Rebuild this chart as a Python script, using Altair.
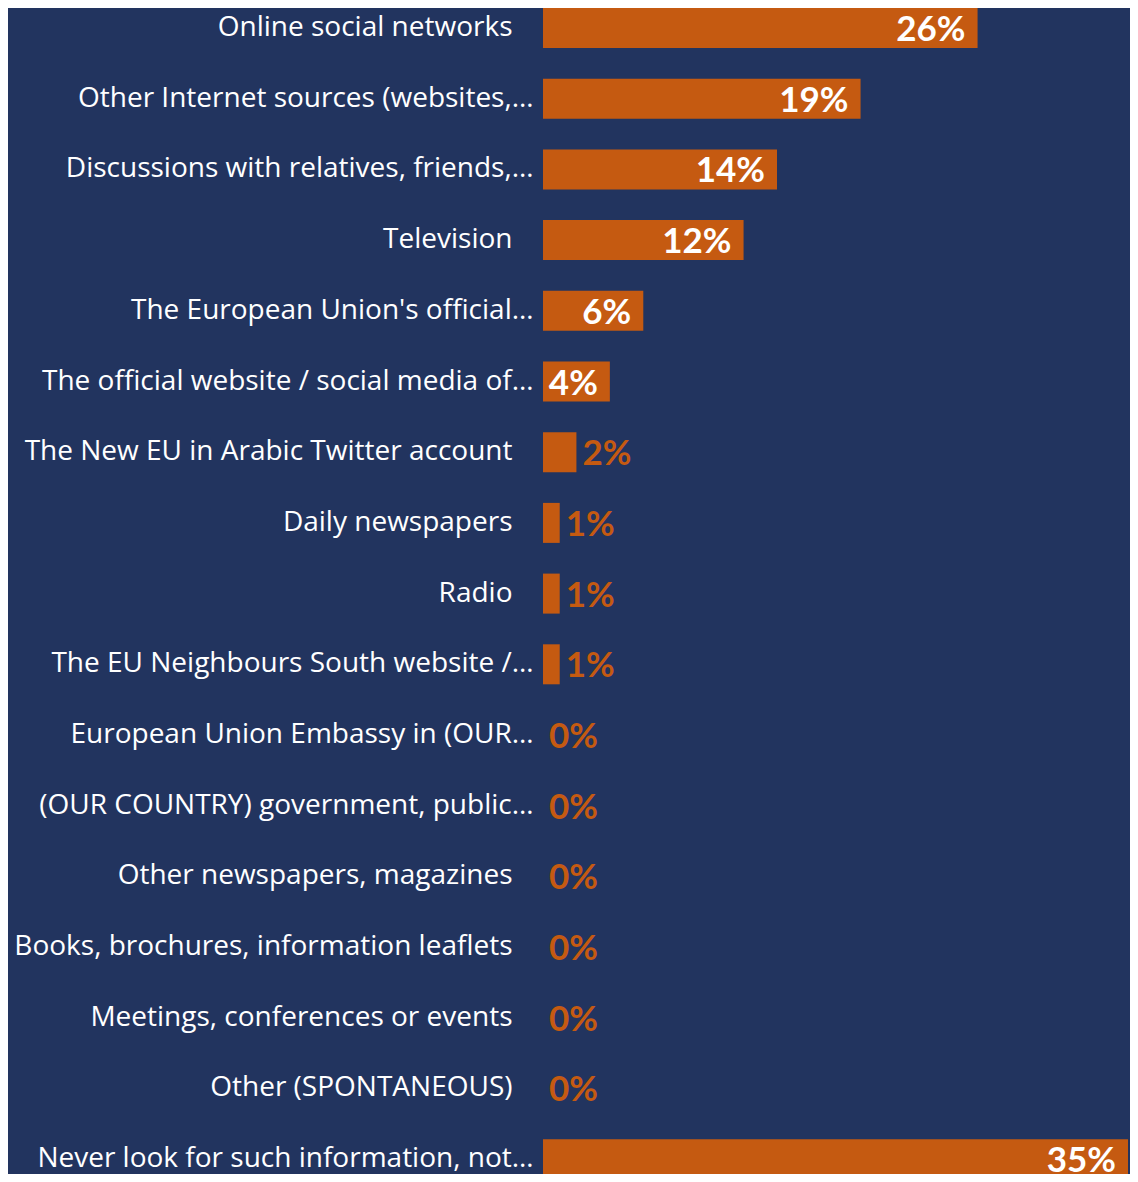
import altair as alt
import pandas as pd

categories = [
    "Online social networks",
    "Other Internet sources (websites,\u2026",
    "Discussions with relatives, friends,\u2026",
    "Television",
    "The European Union's official\u2026",
    "The official website / social media of\u2026",
    "The New EU in Arabic Twitter account",
    "Daily newspapers",
    "Radio",
    "The EU Neighbours South website /\u2026",
    "European Union Embassy in (OUR\u2026",
    "(OUR COUNTRY) government, public\u2026",
    "Other newspapers, magazines",
    "Books, brochures, information leaflets",
    "Meetings, conferences or events",
    "Other (SPONTANEOUS)",
    "Never look for such information, not\u2026",
]
values = [26, 19, 14, 12, 6, 4, 2, 1, 1, 1, 0, 0, 0, 0, 0, 0, 35]
value_labels = ["26%", "19%", "14%", "12%", "6%", "4%", "2%", "1%", "1%", "1%",
                "0%", "0%", "0%", "0%", "0%", "0%", "35%"]

df = pd.DataFrame({"category": categories, "value": values, "label": value_labels})

BG = "#22345F"
ORANGE = "#C55A11"

y = alt.Y(
    "category:N",
    sort=categories,
    title=None,
    scale=alt.Scale(paddingInner=0.4342, paddingOuter=0),
    axis=alt.Axis(
        labelColor="white",
        labelFont="Open Sans",
        labelFontSize=28,
        ticks=False,
        domain=False,
        labelLimit=700,
        labelPadding={"condition": {"test": "indexof(datum.label, '\u2026') >= 0", "value": 10}, "value": 31},
    ),
)
x = alt.X("value:Q", scale=alt.Scale(domain=[0, 35], nice=False), axis=None)

base = alt.Chart(df)
bars = base.mark_bar(color=ORANGE).encode(x=x, y=y)
inside = base.transform_filter("datum.value >= 4").mark_text(
    align="right", baseline="middle", dx=-12, dy=2,
    font="Lato", fontWeight="bold", fontSize=35, color="white"
).encode(x=x, y=y, text="label:N")
outside = base.transform_filter("datum.value < 4").mark_text(
    align="left", baseline="middle", dx=6, dy=2,
    font="Lato", fontWeight="bold", fontSize=35, color=ORANGE
).encode(x=x, y=y, text="label:N")

chart = alt.layer(bars, inside, outside).properties(
    width=585,
    height=1171.2,
    background=BG,
    padding={"left": 535, "top": 0, "right": 2, "bottom": -5.2},
    autosize=alt.AutoSizeParams(type="none"),
).configure_view(stroke=None)

chart.save("out.html", embed_options={"renderer": "svg", "actions": False})
